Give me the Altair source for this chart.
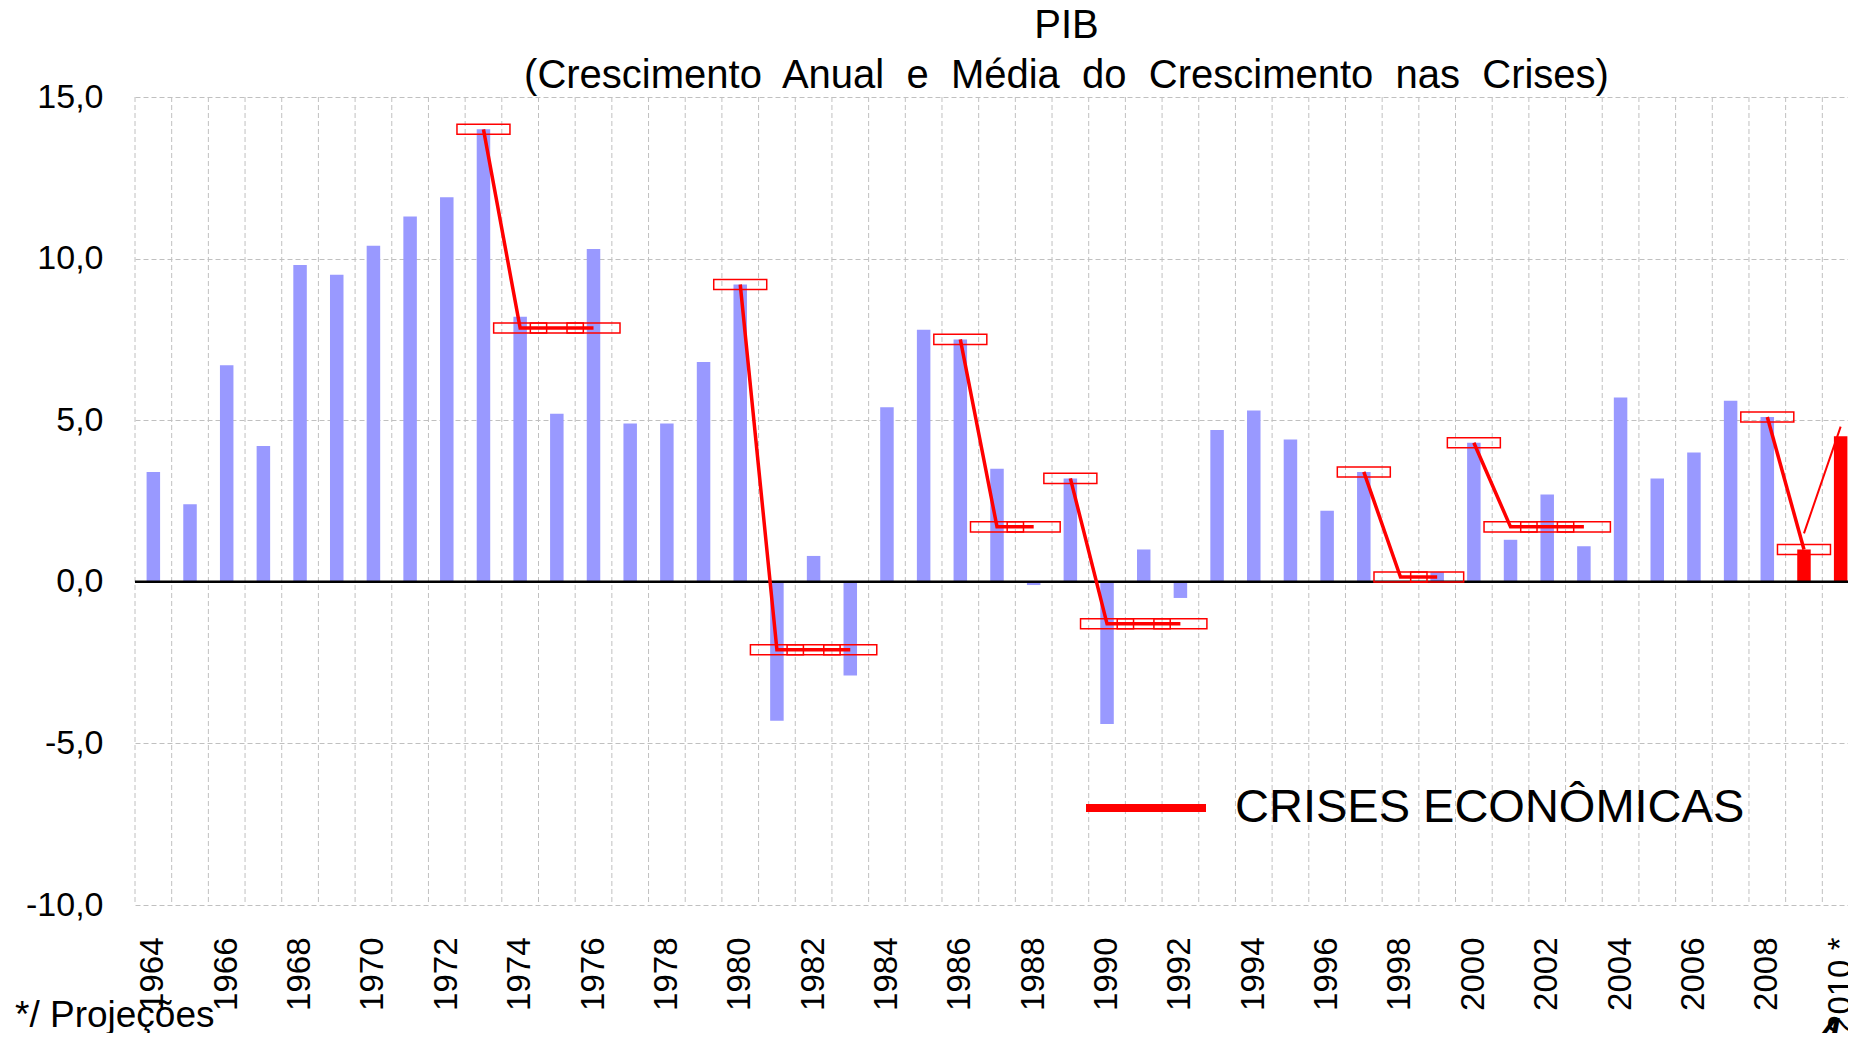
import altair as alt
import pandas as pd

# ---------------- data ----------------
anos = ["1964", "1965", "1966", "1967", "1968", "1969", "1970", "1971", "1972", "1973",
        "1974", "1975", "1976", "1977", "1978", "1979", "1980", "1981", "1982", "1983",
        "1984", "1985", "1986", "1987", "1988", "1989", "1990", "1991", "1992", "1993",
        "1994", "1995", "1996", "1997", "1998", "1999", "2000", "2001", "2002", "2003",
        "2004", "2005", "2006", "2007", "2008", "2009", "2010 *"]
pib = [3.4, 2.4, 6.7, 4.2, 9.8, 9.5, 10.4, 11.3, 11.9, 14.0,
       8.2, 5.2, 10.3, 4.9, 4.9, 6.8, 9.2, -4.3, 0.8, -2.9,
       5.4, 7.8, 7.5, 3.5, -0.1, 3.2, -4.4, 1.0, -0.5, 4.7,
       5.3, 4.4, 2.2, 3.4, 0.0, 0.3, 4.3, 1.3, 2.7, 1.1,
       5.7, 3.2, 4.0, 5.6, 5.1, 1.0, 4.5]
anos_projecao = ["2009", "2010 *"]

crise_id = [1, 1, 1, 1, 2, 2, 2, 2, 3, 3, 3, 4, 4, 4, 4, 5, 5, 5, 6, 6, 6, 6, 7, 7]
crise_ano = ["1973", "1974", "1975", "1976", "1980", "1981", "1982", "1983",
             "1986", "1987", "1988", "1989", "1990", "1991", "1992",
             "1997", "1998", "1999", "2000", "2001", "2002", "2003", "2008", "2009"]
crise_valor = [14.0, 7.85, 7.85, 7.85, 9.2, -2.1, -2.1, -2.1,
               7.5, 1.7, 1.7, 3.2, -1.3, -1.3, -1.3,
               3.4, 0.15, 0.15, 4.3, 1.7, 1.7, 1.7, 5.1, 1.0]

seta_ano = ["2009", "2010 *"]
seta_valor = [1.5, 4.8]

y_ticks = [-10, -5, 0, 5, 10, 15]
legenda_txt = "CRISES ECONÔMICAS"
titulo = "PIB"
subtitulo = "(Crescimento\u00a0 Anual\u00a0 e\u00a0 Média\u00a0 do\u00a0 Crescimento\u00a0 nas\u00a0 Crises)"
nota = "*/ Projeções"
pagina = "4"

df_pib = pd.DataFrame({"ano": anos, "pib": pib})
df_crise = pd.DataFrame({"crise": crise_id, "ano": crise_ano, "valor": crise_valor,
                         "legenda": [legenda_txt] * len(crise_id)})
df_seta = pd.DataFrame({"ano": seta_ano, "valor": seta_valor})
df_zero = pd.DataFrame({"v": [0]})
df_grid = pd.DataFrame({"ano": anos})

FONT = "Liberation Sans"
RED = "#FF0000"
BLUE = "#9999FF"

xscale = alt.Scale(domain=anos, range=[0, 1724], paddingInner=0, paddingOuter=0)
yscale = alt.Scale(domain=[-10, 15], nice=False, zero=False)

axis_x = alt.Axis(title=None,
                  labelExpr="parseInt(datum.value) % 2 == 0 ? datum.value : ''",
                  labelAngle=-90, labelFontSize=33, labelFont=FONT, labelColor="black",
                  labelPadding=32, labelOverlap=False, ticks=False, tickSize=0,
                  domain=False, grid=False)
axis_y = alt.Axis(title=None, values=y_ticks,
                  labelExpr="(datum.value < 0 ? '-' : '') + replace(format(abs(datum.value), '.1f'), '.', ',')",
                  labelFontSize=34, labelFont=FONT, labelColor="black", labelPadding=32,
                  ticks=False, tickSize=0, domain=False, grid=True,
                  gridDash=[5, 3], gridColor="#c0c0c0", gridWidth=1)

X = alt.X("ano:N", scale=xscale, axis=axis_x, sort=anos)
Y_bar = alt.Y("pib:Q", scale=yscale, axis=axis_y)

vgrid = alt.Chart(df_grid).mark_rule(color="#c0c0c0", strokeDash=[5, 3], strokeWidth=1).encode(
    x=alt.X("ano:N", scale=xscale, axis=axis_x, sort=anos, bandPosition=0)
)

bars = alt.Chart(df_pib).mark_bar(size=13.5).encode(
    x=X,
    y=Y_bar,
    color=alt.condition("indexof(" + str(anos_projecao).replace('"', "'") + ", datum.ano) >= 0",
                        alt.value(RED), alt.value(BLUE)),
)

zero = alt.Chart(df_zero).mark_rule(color="black", strokeWidth=2.5).encode(
    y=alt.Y("v:Q", scale=yscale, axis=axis_y)
)

lines = alt.Chart(df_crise).mark_line(strokeWidth=3.5).encode(
    x=X,
    y=alt.Y("valor:Q", scale=yscale, axis=axis_y),
    detail="crise:N",
    color=alt.Color("legenda:N",
                    scale=alt.Scale(domain=[legenda_txt], range=[RED]),
                    legend=alt.Legend(title=None, orient="none", legendX=947, legendY=647,
                                      symbolType="stroke", symbolSize=14400,
                                      symbolStrokeWidth=8, labelFontSize=47,
                                      labelFont=FONT, labelColor="black",
                                      labelOffset=25, padding=0, labelLimit=0)),
)

box_path = "M-1,-0.19L1,-0.19L1,0.19L-1,0.19Z"
boxes = alt.Chart(df_crise).mark_point(shape=box_path, size=2809, filled=False,
                                       color=RED, strokeWidth=1.5, opacity=1).encode(
    x=X,
    y=alt.Y("valor:Q", scale=yscale, axis=axis_y),
)

seta = alt.Chart(df_seta).mark_line(strokeWidth=2, color=RED).encode(
    x=X,
    y=alt.Y("valor:Q", scale=yscale, axis=axis_y),
)

txt_nota = alt.Chart(pd.DataFrame({"t": [nota]})).mark_text(
    align="left", baseline="alphabetic", fontSize=37, font=FONT, color="black").encode(
    text="t:N", x=alt.value(-120), y=alt.value(930))

txt_pag = alt.Chart(pd.DataFrame({"t": [pagina]})).mark_text(
    align="center", baseline="alphabetic", fontSize=38, font=FONT, fontWeight="bold",
    fontStyle="italic", color="black").encode(
    text="t:N", x=alt.value(1695), y=alt.value(948))

chart = alt.layer(vgrid, bars, zero, lines, boxes, seta, txt_nota, txt_pag).properties(
    width=1713, height=808,
    autosize=alt.AutoSizeParams(type="none"),
    padding={"left": 127, "top": 89, "right": 0, "bottom": 128},
    title=alt.TitleParams(text=titulo, subtitle=subtitulo, fontSize=40, subtitleFontSize=40,
                          font=FONT, subtitleFont=FONT, fontWeight="normal",
                          color="black", subtitleColor="black", anchor="middle",
                          dx=75, offset=-16, subtitlePadding=10, frame="group"),
).configure(font=FONT).configure_view(stroke=None)

chart.save("out.html", embed_options={"renderer": "svg", "actions": False})
